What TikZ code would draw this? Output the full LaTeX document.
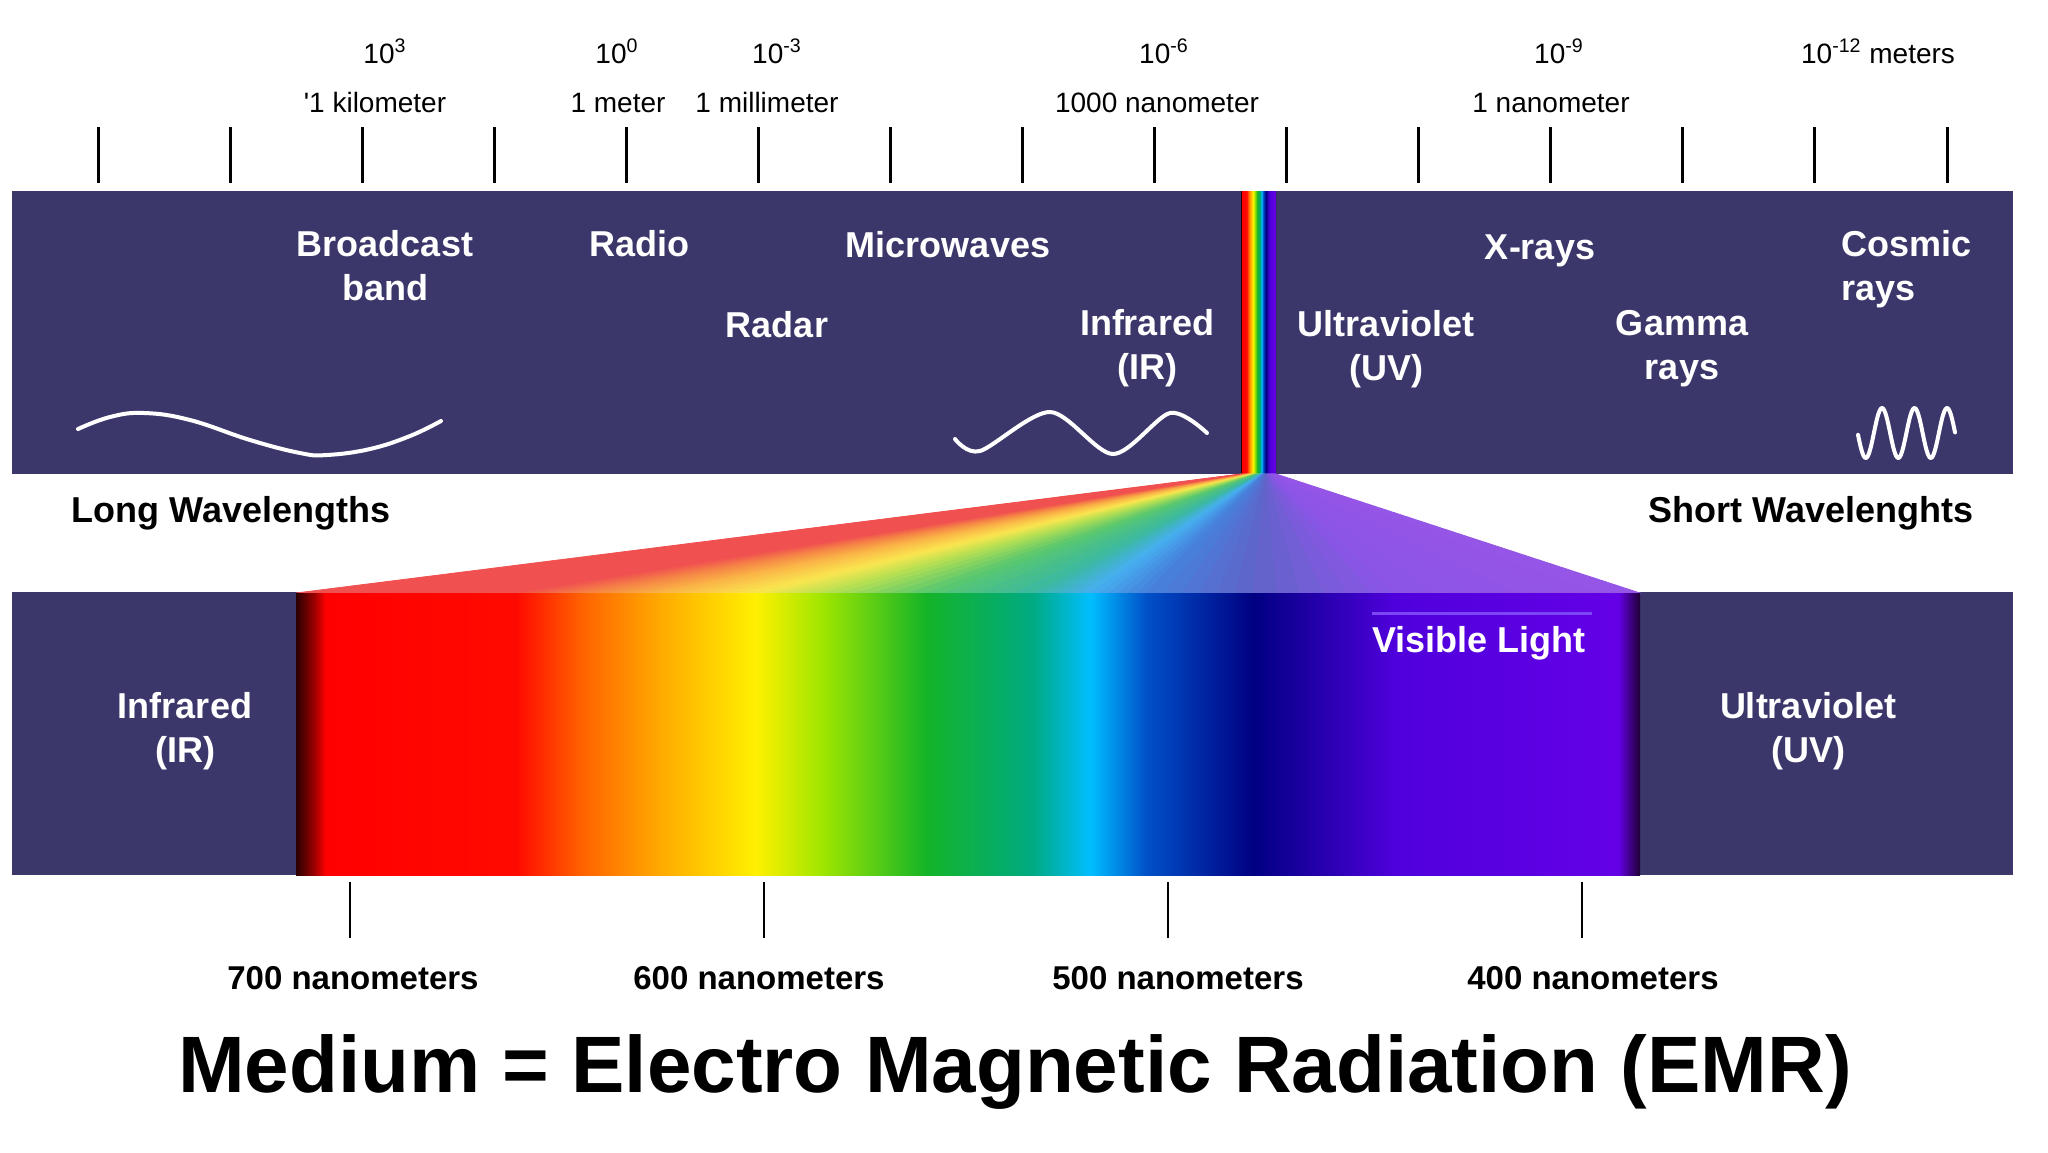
\documentclass[tikz,border=0pt]{standalone}
\usepackage{fontspec}
\setmainfont{Liberation Sans}
\usepackage{xcolor}
\definecolor{emrnavy}{RGB}{59,55,106}
\definecolor{vislight}{RGB}{125,70,245}
% spectrum stops
\definecolor{sp0}{RGB}{40,0,0}
\definecolor{sp1}{RGB}{160,0,0}
\definecolor{sp2}{RGB}{255,0,0}
\definecolor{sp3}{RGB}{255,10,0}
\definecolor{sp4}{RGB}{255,100,0}
\definecolor{sp5}{RGB}{255,170,0}
\definecolor{sp6}{RGB}{255,240,0}
\definecolor{sp7}{RGB}{160,230,0}
\definecolor{sp8}{RGB}{20,180,40}
\definecolor{sp9}{RGB}{0,170,130}
\definecolor{sp10}{RGB}{0,190,255}
\definecolor{sp11}{RGB}{0,80,200}
\definecolor{sp12}{RGB}{0,0,130}
\definecolor{sp13}{RGB}{80,0,220}
\definecolor{sp14}{RGB}{100,0,230}
\definecolor{sp15}{RGB}{30,0,50}
% fan colours
\definecolor{fan0}{RGB}{240,80,80}
\definecolor{fan1}{RGB}{240,80,80}
\definecolor{fan2}{RGB}{245,130,70}
\definecolor{fan3}{RGB}{250,180,70}
\definecolor{fan4}{RGB}{250,230,80}
\definecolor{fan5}{RGB}{190,225,80}
\definecolor{fan6}{RGB}{90,200,110}
\definecolor{fan7}{RGB}{60,185,160}
\definecolor{fan8}{RGB}{70,175,240}
\definecolor{fan9}{RGB}{70,130,220}
\definecolor{fan10}{RGB}{95,100,200}
\definecolor{fan11}{RGB}{140,85,230}
\definecolor{fan12}{RGB}{150,85,230}
\pgfdeclarehorizontalshading{visspec}{100bp}{color(0bp)=(sp0); color(25bp)=(sp0); color(25.7bp)=(sp1); color(26.1bp)=(sp2); color(33.2bp)=(sp3); color(35.7bp)=(sp4); color(38.55bp)=(sp5); color(42.1bp)=(sp6); color(44.55bp)=(sp7); color(48.45bp)=(sp8); color(52.4bp)=(sp9); color(54.55bp)=(sp10); color(56.65bp)=(sp11); color(60.6bp)=(sp12); color(65.9bp)=(sp13); color(74.2bp)=(sp14); color(75bp)=(sp15); color(100bp)=(sp15)}

\begin{document}
\begin{tikzpicture}[
    x=0.5pt, y=-0.5pt,
    bandlabel/.style={text=white, font=\fontsize{18}{22}\selectfont\bfseries, align=center, inner sep=0pt},
    scalelabel/.style={font=\fontsize{14}{17}\selectfont, inner sep=0pt, anchor=base},
    sidelabel/.style={font=\fontsize{18}{22}\selectfont\bfseries, inner sep=0pt, anchor=base},
    nmlabel/.style={font=\fontsize{16.5}{20}\selectfont\bfseries, inner sep=0pt, anchor=base},
    wave/.style={white, line width=2pt, line cap=round, line join=round},
    scaletick/.style={black, line width=1.5pt},
    nmtick/.style={black, line width=1pt}
]
    \fill[white] (0,0) rectangle (2048,1152);
    \useasboundingbox (0,0) rectangle (2048,1152);

    % wavelength scale
    \foreach \i in {0,...,14}
        \draw[scaletick] (98+132.07*\i,127) -- (98+132.07*\i,183);
    \node[scalelabel] (e3) at (385,63) {10\textsuperscript{3}};
    \node[scalelabel] (km) at (375,112) {\textquotesingle1 kilometer};
    \node[scalelabel] (e0) at (617,63) {10\textsuperscript{0}};
    \node[scalelabel] (m) at (618,112) {1 meter};
    \node[scalelabel] (em3) at (777,63) {10\textsuperscript{-3}};
    \node[scalelabel] (mm) at (767,112) {1 millimeter};
    \node[scalelabel] (em6) at (1164,63) {10\textsuperscript{-6}};
    \node[scalelabel] (knm) at (1157,112) {1000 nanometer};
    \node[scalelabel] (em9) at (1559,63) {10\textsuperscript{-9}};
    \node[scalelabel] (nm) at (1551,112) {1 nanometer};
    \node[scalelabel] (em12) at (1878,63) {10\textsuperscript{-12} meters};

    % bands
    \fill[emrnavy] (12,191) rectangle (2013,474);
    \fill[emrnavy] (12,592) rectangle (2013,875);
    \shade[shading=visspec] (1241,191) rectangle (1276,474);

    % fan from strip to visible band
    \foreach \fa/\fb/\ca/\cb in {0/16.4/fan0/fan1, 16.4/21.4/fan1/fan2, 21.4/27.1/fan2/fan3,
        27.1/34.2/fan3/fan4, 34.2/39.1/fan4/fan5, 39.1/46.9/fan5/fan6, 46.9/54.8/fan6/fan7,
        54.8/59.1/fan7/fan8, 59.1/63.3/fan8/fan9, 63.3/71.2/fan9/fan10, 71.2/81.8/fan10/fan11,
        81.8/100/fan11/fan12} {
        \foreach \k in {0,...,5} {
            \pgfmathsetmacro\ua{\fa+(\fb-\fa)*\k/6}
            \pgfmathsetmacro\ub{\fa+(\fb-\fa)*(\k+1)/6}
            \pgfmathtruncatemacro\mix{100-100*(\k+0.5)/6}
            \filldraw[line width=0.4pt, color=\ca!\mix!\cb] (1241+0.35*\ua,474) -- (1241+0.35*\ub,474)
                -- (296+13.44*\ub,593) -- (296+13.44*\ua,593) -- cycle;
        }
    }
    \shade[shading=visspec] (296,593) rectangle (1640,875);

    % waves
    \draw[wave] plot[smooth, tension=0.7] coordinates {(78,429) (110,417) (144,413) (190,420) (250,440)
        (300,453) (327,455) (370,449) (410,436) (441,421)};
    \draw[wave] plot[smooth, tension=0.5] coordinates {(955,439) (980,451) (1050,412) (1113,454)
        (1170,413) (1207,433)};
    \draw[wave, domain=0:97, samples=90, smooth] plot (1858+\x,{433-25*cos(11.077*(\x-24))});

    % band labels
    \node[bandlabel] (broadcast) at (385,266) {Broadcast\\band};
    \node[bandlabel, anchor=base] (radio) at (639,256) {Radio};
    \node[bandlabel, anchor=base] (micro) at (948,257) {Microwaves};
    \node[bandlabel, anchor=base] (radar) at (777,337) {Radar};
    \node[bandlabel] (ir) at (1147,348) {Infrared\\(IR)};
    \node[bandlabel, anchor=base] (xray) at (1540,259) {X-rays};
    \node[bandlabel, align=left, anchor=west] (cosmic) at (1841,269) {Cosmic\\rays};
    \node[bandlabel] (uv) at (1386,349) {Ultraviolet\\(UV)};
    \node[bandlabel] (gamma) at (1682,349) {Gamma\\rays};
    \node[bandlabel] (irlow) at (185,731) {Infrared\\(IR)};
    \node[bandlabel] (uvlow) at (1808,731) {Ultraviolet\\(UV)};
    \draw[vislight, line width=1.5pt] (1372,613) -- (1592,613);
    \node[bandlabel, anchor=base west] (visible) at (1372,652) {Visible Light};

    \node[sidelabel] (long) at (231,522) {Long Wavelengths};
    \node[sidelabel] (short) at (1811,522) {Short Wavelenghts};

    % nanometer scale
    \foreach \x/\lx/\n in {350/353/700, 764/759/600, 1168/1178/500, 1582/1593/400} {
        \draw[nmtick] (\x,882) -- (\x,938);
        \node[nmlabel] (nm\n) at (\lx,989) {\n\ nanometers};
    }

    \node[font=\fontsize{40}{48}\selectfont\bfseries, inner sep=0pt, anchor=base] (title) at (1015,1092)
        {Medium = Electro Magnetic Radiation (EMR)};
\end{tikzpicture}
\end{document}
